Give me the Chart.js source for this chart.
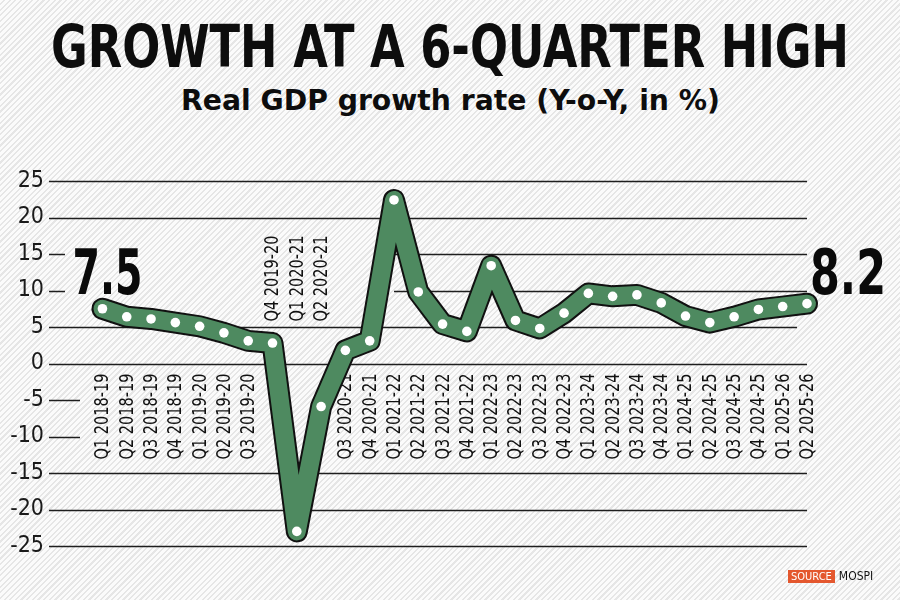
<!DOCTYPE html>
<html>
<head>
<meta charset="utf-8">
<script src="https://cdn.jsdelivr.net/npm/chart.js@4.4.1/dist/chart.umd.min.js"></script>
<style>
  html, body { margin: 0; padding: 0; }
  body {
    width: 900px; height: 600px; position: relative; overflow: hidden;
    background: repeating-linear-gradient(135deg, #fbfbfb 0 2.4px, #e6e6e6 2.4px 4px);
    font-family: "Liberation Sans Narrow", "DejaVu Sans Condensed", "Roboto", sans-serif;
  }
  .fit { position: absolute; left: 0; width: 900px; height: 60px; white-space: nowrap; color: #0d0d0d; font-weight: bold; }
  .fit span { position: absolute; top: 0; left: 0; display: inline-block; transform-origin: 0 0; }
  #title { top: 18px; font-size: 58px; line-height: 58px; }
  #subtitle { top: 86px; font-size: 29px; line-height: 29px; }
  #chart-box { position: absolute; left: 0; top: 0; width: 900px; height: 600px; }
  #source { position: absolute; left: 788px; top: 570px; font-size: 11px; line-height: 13px; }
  #source b { background: #e4572e; color: #fff; font-weight: normal; padding: 0 3px; display: inline-block; height: 13px; }
  #source span { margin-left: 4px; color: #111; font-size: 12px; }
</style>
</head>
<body>
<div id="title" class="fit"><span data-w="798">GROWTH AT A 6-QUARTER HIGH</span></div>
<div id="subtitle" class="fit"><span data-w="539">Real GDP growth rate (Y-o-Y, in %)</span></div>
<div id="chart-box"><canvas id="chart"></canvas></div>
<div id="source"><b>SOURCE</b><span>MOSPI</span></div>
<script>
const quarters = [
  'Q1 2018-19', 'Q2 2018-19', 'Q3 2018-19', 'Q4 2018-19',
  'Q1 2019-20', 'Q2 2019-20', 'Q3 2019-20', 'Q4 2019-20',
  'Q1 2020-21', 'Q2 2020-21', 'Q3 2020-21', 'Q4 2020-21',
  'Q1 2021-22', 'Q2 2021-22', 'Q3 2021-22', 'Q4 2021-22',
  'Q1 2022-23', 'Q2 2022-23', 'Q3 2022-23', 'Q4 2022-23',
  'Q1 2023-24', 'Q2 2023-24', 'Q3 2023-24', 'Q4 2023-24',
  'Q1 2024-25', 'Q2 2024-25', 'Q3 2024-25', 'Q4 2024-25',
  'Q1 2025-26', 'Q2 2025-26'
]
const growth = [
  7.5, 6.4, 6.1, 5.6,
  5.1, 4.2, 3.1, 2.8,
  -23.0, -5.9, 1.8, 3.1,
  22.4, 9.8, 5.4, 4.4,
  13.4, 5.9, 4.8, 6.9,
  9.6, 9.2, 9.4, 8.3,
  6.5, 5.6, 6.4, 7.4,
  7.8, 8.2
]
const yTicks = [25, 20, 15, 10, 5, 0, -5, -10, -15, -20, -25]
// quarter labels that sit above the zero line (the covid dip)
const raisedLabels = ['Q4 2019-20', 'Q1 2020-21', 'Q2 2020-21']

const GREEN = '#4e8a60'
const FONT = '"Liberation Sans Narrow", "DejaVu Sans Condensed", "Roboto", sans-serif'

// squeeze html titles to the reference width, centred on the page
document.querySelectorAll('.fit span').forEach(s => {
  const w = s.getBoundingClientRect().width
  const target = +s.dataset.w
  s.style.left = (450 - target / 2) + 'px'
  s.style.transform = 'scaleX(' + (target / w) + ')'
})

function fitText(ctx, text, x, y, width) {
  const w = ctx.measureText(text).width
  ctx.save()
  ctx.translate(x, y)
  ctx.scale(width / w, 1)
  ctx.fillText(text, 0, 0)
  ctx.restore()
}

const gridAndLabels = {
  id: 'gridAndLabels',
  beforeDatasetsDraw(chart) {
    const {ctx, chartArea: {left, right}, scales: {x, y}} = chart
    ctx.save()
    ctx.strokeStyle = '#1e1e1e'
    ctx.lineWidth = 1.5
    const resume = x.getPixelForValue(12)
    yTicks.forEach(v => {
      const py = Math.round(y.getPixelForValue(v)) + 0.5
      let segs = [[left, right]]
      if (v === 15 || v === 10) segs = [[left, left + 16], [resume, right]]
      if (v === -5 || v === -10) segs = [[left, left + 31]]
      if (v === 5) segs = [[left, right - 10]]
      segs.forEach(([a, b]) => {
        ctx.beginPath()
        ctx.moveTo(a, py)
        ctx.lineTo(b, py)
        ctx.stroke()
      })
    })

    // rotated quarter labels
    const zero = y.getPixelForValue(0)
    ctx.fillStyle = '#111'
    ctx.font = '19px ' + FONT
    ctx.textAlign = 'right'
    ctx.textBaseline = 'middle'
    quarters.forEach((q, i) => {
      const px = x.getPixelForValue(i)
      const top = raisedLabels.includes(q) ? zero - 128 : zero + 10
      ctx.save()
      ctx.translate(px, top)
      ctx.rotate(-Math.PI / 2)
      const w = ctx.measureText(q).width
      ctx.scale(86 / w, 1)
      ctx.fillText(q, 0, 1)
      ctx.restore()
    })
    ctx.restore()
  },
  afterDatasetsDraw(chart) {
    const {ctx, scales: {x, y}} = chart
    const last = growth.length - 1
    ctx.save()
    ctx.fillStyle = '#0a0a0a'
    ctx.font = 'bold 62px ' + FONT
    ctx.textBaseline = 'alphabetic'
    ctx.textAlign = 'center'
    fitText(ctx, growth[0].toFixed(1), x.getPixelForValue(0) + 5, y.getPixelForValue(growth[0]) - 15, 70)
    ctx.textAlign = 'left'
    fitText(ctx, growth[last].toFixed(1), x.getPixelForValue(last) + 3, y.getPixelForValue(growth[last]) - 10, 76)
    ctx.restore()
  }
}

const points = growth.map((v, i) => ({x: i, y: v}))

new Chart(document.getElementById('chart'), {
  type: 'line',
  data: {
    datasets: [
      {
        data: points,
        borderColor: GREEN,
        borderWidth: 18,
        borderJoinStyle: 'round',
        borderCapStyle: 'round',
        pointRadius: 4.8,
        pointBackgroundColor: '#ffffff',
        pointBorderWidth: 0,
        tension: 0,
        clip: false,
        order: 1
      },
      {
        data: points,
        borderColor: '#111111',
        borderWidth: 22,
        borderJoinStyle: 'round',
        borderCapStyle: 'round',
        pointRadius: 0,
        tension: 0,
        clip: false,
        order: 2
      }
    ]
  },
  options: {
    responsive: true,
    maintainAspectRatio: false,
    animation: false,
    events: [],
    layout: {
      padding: {top: 181, bottom: 54, left: 0, right: 93}
    },
    scales: {
      x: {
        type: 'linear',
        display: false,
        min: -2.2,
        max: quarters.length - 1
      },
      y: {
        min: -25,
        max: 25,
        afterBuildTicks(scale) {
          scale.ticks = yTicks.map(v => ({value: v}))
        },
        afterFit(scale) {
          scale.width = 49
        },
        grid: {display: false, drawTicks: false},
        border: {display: false},
        ticks: {
          padding: 5,
          color: '#1a1a1a',
          font: {family: FONT, size: 23}
        }
      }
    },
    plugins: {
      legend: {display: false},
      tooltip: {enabled: false}
    }
  },
  plugins: [gridAndLabels]
})
</script>
</body>
</html>
